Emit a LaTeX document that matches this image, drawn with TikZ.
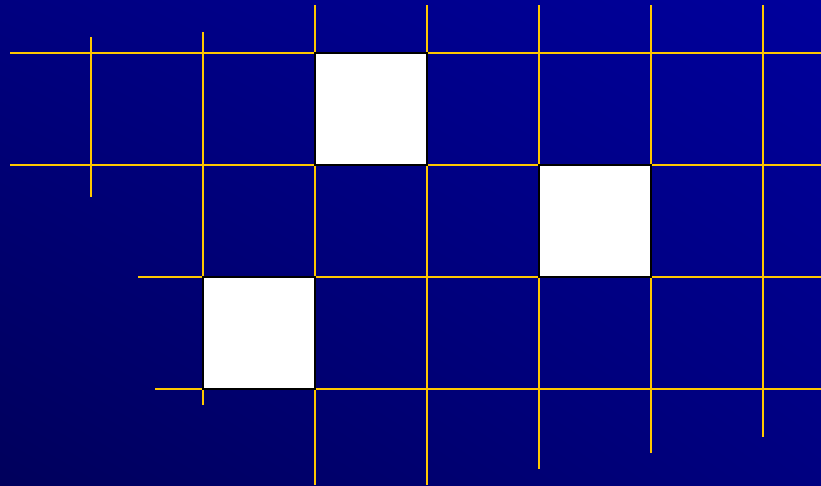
\documentclass[tikz,border=0pt]{standalone}
\usetikzlibrary{shadings}
\definecolor{gold}{RGB}{255,200,0}
\definecolor{bgdark}{RGB}{0,0,92}
\definecolor{bgmid}{RGB}{0,0,128}
\definecolor{bglight}{RGB}{0,0,156}
\tikzset{
  gridline/.style={draw=gold, line width=1.8pt},
  cell/.style={draw=black, fill=white, line width=2pt, minimum width=112pt, minimum height=112pt, inner sep=0pt, outer sep=0pt, anchor=north west}
}
\begin{document}
\begin{tikzpicture}[x=1pt,y=-1pt]
\useasboundingbox (0,0) rectangle (821,485);
\shade[lower left=bgdark, upper left=bgmid, upper right=bglight, lower right=bgmid] (0,0) rectangle (821,485);
% horizontal lines
\coordinate (h1a) at (10,53);  \coordinate (h1b) at (821,53);
\coordinate (h2a) at (10,165); \coordinate (h2b) at (821,165);
\coordinate (h3a) at (138,277); \coordinate (h3b) at (821,277);
\coordinate (h4a) at (155,389); \coordinate (h4b) at (821,389);
\draw[gridline] (h1a) -- (h1b);
\draw[gridline] (h2a) -- (h2b);
\draw[gridline] (h3a) -- (h3b);
\draw[gridline] (h4a) -- (h4b);
% vertical lines
\coordinate (v0a) at (91,37);  \coordinate (v0b) at (91,197);
\coordinate (v1a) at (203,32); \coordinate (v1b) at (203,405);
\coordinate (v2a) at (315,5);  \coordinate (v2b) at (315,485);
\coordinate (v3a) at (427,5);  \coordinate (v3b) at (427,485);
\coordinate (v4a) at (539,5);  \coordinate (v4b) at (539,469);
\coordinate (v5a) at (651,5);  \coordinate (v5b) at (651,453);
\coordinate (v6a) at (763,5);  \coordinate (v6b) at (763,437);
\draw[gridline] (v0a) -- (v0b);
\draw[gridline] (v1a) -- (v1b);
\draw[gridline] (v2a) -- (v2b);
\draw[gridline] (v3a) -- (v3b);
\draw[gridline] (v4a) -- (v4b);
\draw[gridline] (v5a) -- (v5b);
\draw[gridline] (v6a) -- (v6b);
% white cells
\node[cell] (c1) at (315,53) {};
\node[cell] (c2) at (539,165) {};
\node[cell] (c3) at (203,277) {};
\end{tikzpicture}
\end{document}
